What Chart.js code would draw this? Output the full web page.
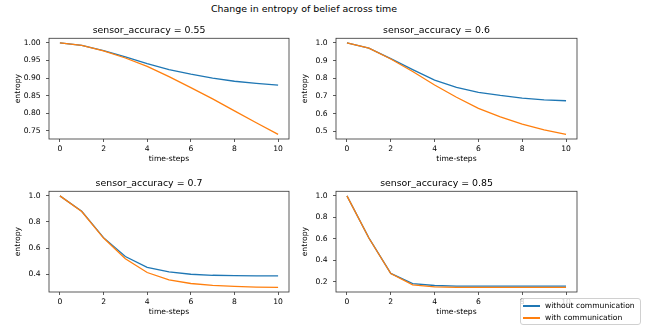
<!DOCTYPE html>
<html>
<head>
<meta charset="utf-8">
<script src="https://cdn.jsdelivr.net/npm/chart.js"></script>
<style>
  body { margin: 0; background: #fff; }
  #fig { position: relative; width: 657px; height: 326px; background: #fff; font-family: 'DejaVu Sans', sans-serif; }
  #fig canvas { position: absolute; }
  #suptitle { position: absolute; left: 304px; top: 3px; transform: translateX(-50%); font-size: 9.45px; white-space: nowrap; color: #000; }
  #legend { position: absolute; left: 520px; top: 298px; width: 121px; height: 27px; box-sizing: border-box;
            border: 1px solid #d0d0d0; border-radius: 3px; background: rgba(255,255,255,0.8); font-size: 7.6px; color: #000; }
  .row { position: absolute; left: 24px; height: 10px; line-height: 10px; white-space: nowrap; }
  .swatch { position: absolute; left: 2px; width: 17px; height: 2px; }
</style>
</head>
<body>
<div id="fig">
  <div id="suptitle">Change in entropy of belief across time</div>
  <canvas id="c1" width="322" height="139" style="left:9px;top:25px"></canvas>
  <canvas id="c2" width="323" height="139" style="left:296px;top:25px"></canvas>
  <canvas id="c3" width="322" height="139" style="left:9px;top:178px"></canvas>
  <canvas id="c4" width="323" height="139" style="left:296px;top:178px"></canvas>
  <div id="legend"></div>
</div>
<script>
// time steps on the x axis
const steps = [0, 1, 2, 3, 4, 5, 6, 7, 8, 9, 10];
const xTicks = [0, 2, 4, 6, 8, 10];
const seriesNames = ['without communication', 'with communication'];
const seriesColors = ['#1f77b4', '#ff7f0e'];

// sensor_accuracy = 0.55
const acc55Without = [1.000, 0.993, 0.978, 0.960, 0.941, 0.924, 0.911, 0.900, 0.891, 0.885, 0.880];
const acc55With    = [1.000, 0.993, 0.977, 0.957, 0.933, 0.904, 0.873, 0.841, 0.807, 0.773, 0.740];
// sensor_accuracy = 0.6
const acc60Without = [1.000, 0.970, 0.911, 0.849, 0.790, 0.749, 0.721, 0.703, 0.688, 0.678, 0.673];
const acc60With    = [1.000, 0.970, 0.909, 0.838, 0.762, 0.693, 0.630, 0.582, 0.541, 0.509, 0.483];
// sensor_accuracy = 0.7
const acc70Without = [1.000, 0.882, 0.680, 0.536, 0.453, 0.418, 0.400, 0.392, 0.390, 0.388, 0.387];
const acc70With    = [1.000, 0.880, 0.677, 0.518, 0.413, 0.357, 0.329, 0.314, 0.307, 0.302, 0.299];
// sensor_accuracy = 0.85
const acc85Without = [1.000, 0.608, 0.276, 0.181, 0.163, 0.158, 0.157, 0.157, 0.157, 0.157, 0.157];
const acc85With    = [1.000, 0.606, 0.274, 0.169, 0.151, 0.146, 0.145, 0.145, 0.145, 0.145, 0.145];

// y tick labels per subplot
const yTicks55 = ['0.75', '0.80', '0.85', '0.90', '0.95', '1.00'];
const yTicks60 = ['0.5', '0.6', '0.7', '0.8', '0.9', '1.0'];
const yTicks70 = ['0.4', '0.6', '0.8', '1.0'];
const yTicks85 = ['0.2', '0.4', '0.6', '0.8', '1.0'];

Chart.defaults.font.family = "'DejaVu Sans', sans-serif";
Chart.defaults.color = '#000';

// frame around the plotting area, like matplotlib spines
const frame = {
  id: 'frame',
  afterDraw(chart) {
    const { ctx, chartArea: a } = chart;
    ctx.save();
    ctx.strokeStyle = '#333';
    ctx.lineWidth = 0.8;
    ctx.strokeRect(a.left, a.top, a.right - a.left, a.bottom - a.top);
    ctx.restore();
  }
};

function makeChart(id, title, without, withComm, yTicks) {
  const all = without.concat(withComm);
  const lo = Math.min(...all), hi = Math.max(...all);
  const pad = (hi - lo) * 0.05;
  const tickFont = { size: 7.6 };

  return new Chart(document.getElementById(id), {
    type: 'line',
    data: {
      datasets: [
        { label: seriesNames[0], data: steps.map((x, i) => ({ x, y: without[i] })),
          borderColor: seriesColors[0], borderWidth: 1.3, pointRadius: 0, tension: 0, order: 1 },
        { label: seriesNames[1], data: steps.map((x, i) => ({ x, y: withComm[i] })),
          borderColor: seriesColors[1], borderWidth: 1.3, pointRadius: 0, tension: 0, order: 0 },
      ],
    },
    options: {
      responsive: false,
      animation: false,
      devicePixelRatio: 1,
      // right padding equals the y axis width so the title centres over the plot
      layout: { padding: { right: 42 } },
      plugins: {
        legend: { display: false },
        tooltip: { enabled: false },
        title: {
          display: true, text: title, color: '#000',
          font: { size: 9.4, weight: 'normal' },
          padding: { top: 0, bottom: 2 },
        },
      },
      scales: {
        x: {
          type: 'linear', min: -0.5, max: 10.5,
          afterBuildTicks: s => { s.ticks = xTicks.map(v => ({ value: v })); },
          afterFit: s => { s.height = 25; },
          grid: { drawOnChartArea: false, tickLength: 3, tickColor: '#333', tickWidth: 0.8 },
          border: { display: false },
          ticks: { font: tickFont, padding: 2.4, maxRotation: 0, callback: v => String(v) },
          title: { display: true, text: 'time-steps', font: tickFont, padding: { top: 0, bottom: 0 } },
        },
        y: {
          type: 'linear', min: lo - pad, max: hi + pad,
          afterBuildTicks: s => { s.ticks = yTicks.map(t => ({ value: parseFloat(t) })); },
          afterFit: s => { s.width = 40; },
          grid: { drawOnChartArea: false, tickLength: 3, tickColor: '#333', tickWidth: 0.8 },
          border: { display: false },
          ticks: { font: tickFont, padding: 5.3,
                   callback: (v) => yTicks.find(t => Math.abs(parseFloat(t) - v) < 1e-9) || '' },
          title: { display: true, text: 'entropy', font: tickFont, padding: { top: 4.7, bottom: 0 } },
        },
      },
    },
    plugins: [frame],
  });
}

makeChart('c1', 'sensor_accuracy = 0.55', acc55Without, acc55With, yTicks55);
makeChart('c2', 'sensor_accuracy = 0.6', acc60Without, acc60With, yTicks60);
makeChart('c3', 'sensor_accuracy = 0.7', acc70Without, acc70With, yTicks70);
makeChart('c4', 'sensor_accuracy = 0.85', acc85Without, acc85With, yTicks85);

// legend (bottom right of the figure)
const legend = document.getElementById('legend');
seriesNames.forEach((name, i) => {
  const top = 2 + i * 11.5;
  const sw = document.createElement('div');
  sw.className = 'swatch';
  sw.style.top = Math.round(top + 4) + 'px';
  sw.style.background = seriesColors[i];
  legend.appendChild(sw);
  const row = document.createElement('div');
  row.className = 'row';
  row.style.top = top + 'px';
  row.textContent = name;
  legend.appendChild(row);
});
</script>
</body>
</html>
